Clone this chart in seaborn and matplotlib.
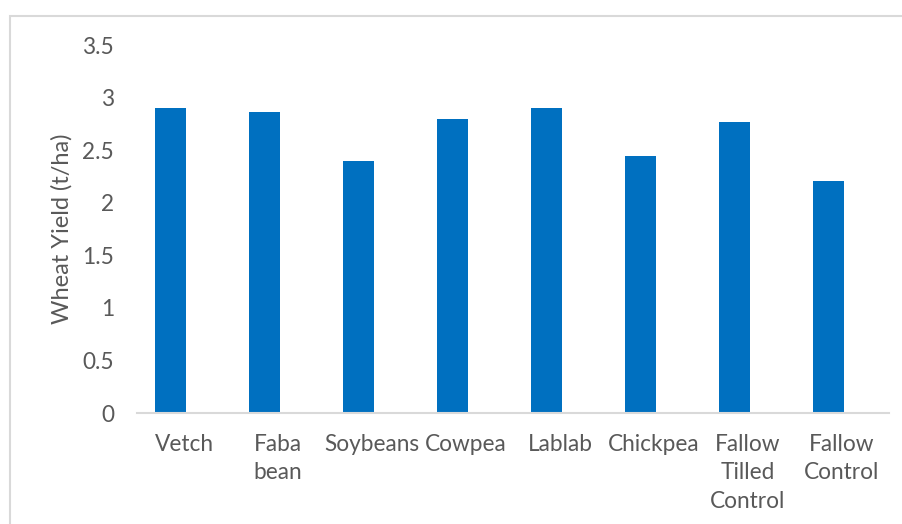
import matplotlib
matplotlib.use("Agg")
import matplotlib.pyplot as plt
from matplotlib.patches import Rectangle
import seaborn as sns
import pandas as pd

# Wheat yield following each rotation crop
crops = ["Vetch", "Faba bean", "Soybeans", "Cowpea", "Lablab", "Chickpea",
         "Fallow Tilled Control", "Fallow Control"]
tick_labels = ["Vetch", "Faba\nbean", "Soybeans", "Cowpea", "Lablab", "Chickpea",
               "Fallow\nTilled\nControl", "Fallow\nControl"]
yield_t_ha = [2.90, 2.86, 2.40, 2.80, 2.90, 2.44, 2.77, 2.21]
y_ticks = [0, 0.5, 1, 1.5, 2, 2.5, 3, 3.5]
y_tick_labels = ["0", "0.5", "1", "1.5", "2", "2.5", "3", "3.5"]

df = pd.DataFrame({"crop": crops, "yield": yield_t_ha})

sns.set_theme(style="white")
plt.rcParams["font.family"] = ["Lato", "DejaVu Sans"]

W, H = 903, 524
fig = plt.figure(figsize=(W / 100, H / 100), dpi=100)
fig.patch.set_facecolor("white")

# chart frame (left and top edges visible)
fig.patches.append(Rectangle((10.5 / W, -0.1), 1.2, (H - 16.5) / H + 0.1,
                             transform=fig.transFigure, fill=False,
                             edgecolor="#D9D9D9", linewidth=1.5, zorder=0))

ax = fig.add_axes([137 / W, 111 / H, 752 / W, 368 / H])
bar_color = "#0070C0"
sns.barplot(data=df, x="crop", y="yield", order=crops, color=bar_color,
            width=0.34, saturation=1, ax=ax, errorbar=None)

# columns sit slightly left of each category centre
shift = 13.5 / 94
for p in ax.patches:
    p.set_x(p.get_x() - shift)
    p.set_edgecolor("none")

ax.set_xlim(-0.5, len(crops) - 0.5)
ax.set_ylim(0, 3.5)
ax.set_yticks(y_ticks)
ax.set_yticklabels(y_tick_labels)
ax.set_xticks(range(len(crops)))
ax.set_xticklabels(tick_labels, linespacing=1.45)

text_color = "#595959"
fs = 16.3
ax.tick_params(axis="y", length=0, pad=16.5, labelsize=fs, labelcolor=text_color)
ax.tick_params(axis="x", length=0, pad=15, labelsize=fs, labelcolor=text_color)
for lbl in ax.get_xticklabels():
    lbl.set_verticalalignment("top")
    lbl.set_horizontalalignment("center")

ax.set_xlabel("")
ax.set_ylabel("Wheat Yield (t/ha)", fontsize=17, color=text_color)
ax.yaxis.set_label_coords((73 - 137) / 752, 0.5)

for s in ["top", "right", "left"]:
    ax.spines[s].set_visible(False)
ax.spines["bottom"].set_color("#D9D9D9")
ax.spines["bottom"].set_linewidth(1.5)
ax.spines["bottom"].set_zorder(5)
ax.grid(False)

fig.savefig("out.png", dpi=100, facecolor="white")
